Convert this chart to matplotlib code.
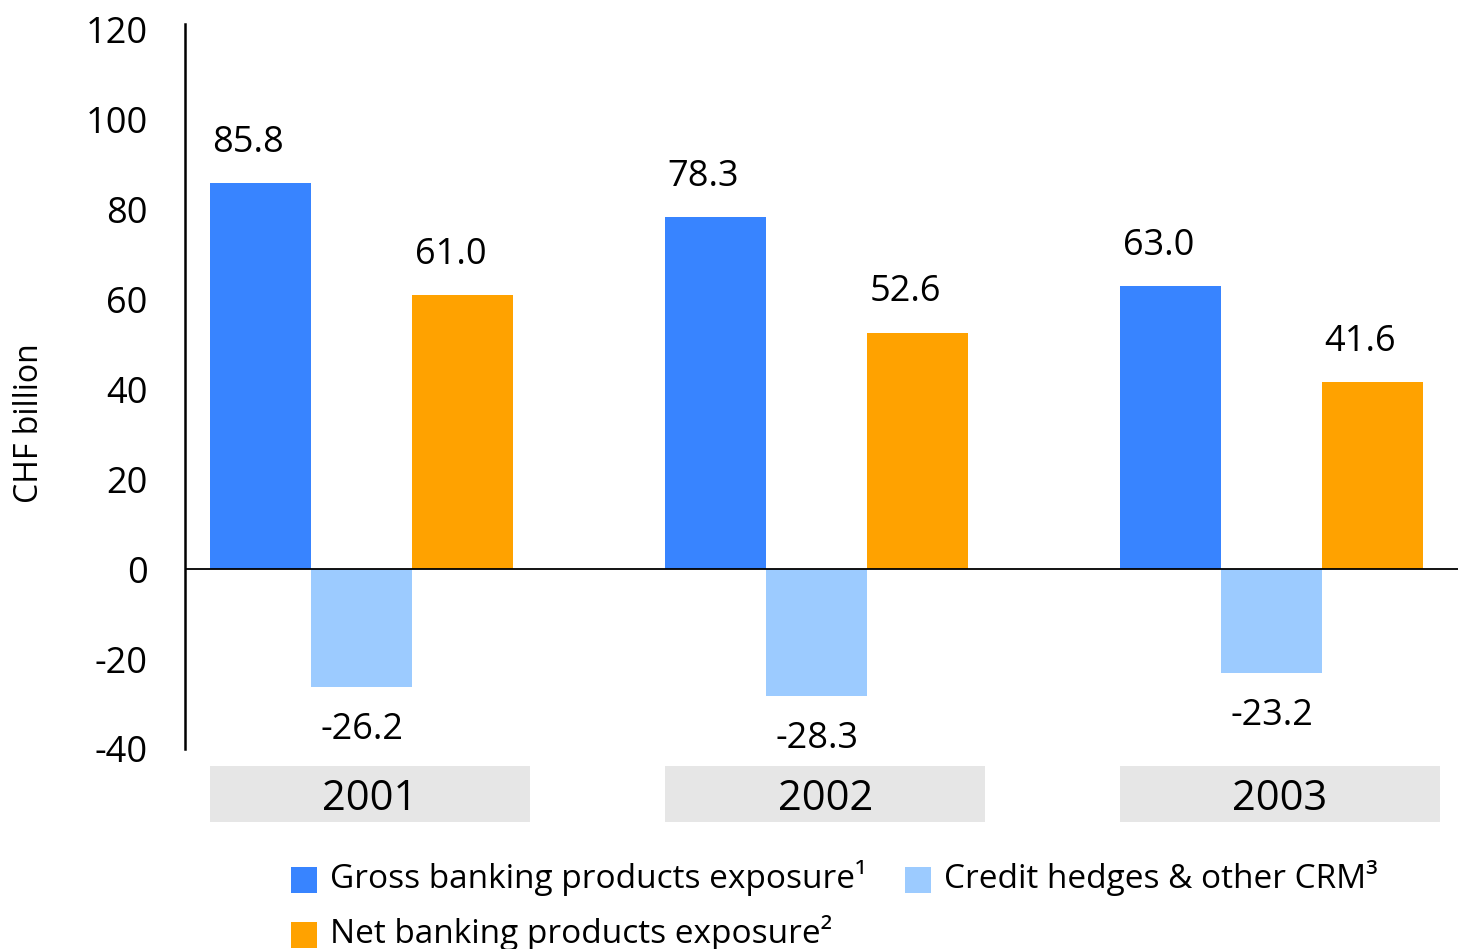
import matplotlib
matplotlib.use("Agg")
import matplotlib.pyplot as plt
import matplotlib.transforms as mtransforms
from matplotlib.patches import Rectangle
import numpy as np

plt.rcParams['font.family'] = ['Open Sans', 'DejaVu Sans']

years = ["2001", "2002", "2003"]
series_names = ["Gross banking products exposure\u00b9",
                "Credit hedges & other CRM\u00b3",
                "Net banking products exposure\u00b2"]
gross = [85.8, 78.3, 63.0]
hedges = [-26.2, -28.3, -23.2]
net = [61.0, 52.6, 41.6]
yticks = [-40, -20, 0, 20, 40, 60, 80, 100, 120]
colors = ["#3884ff", "#9ccbff", "#ffa200"]

W, H = 1458, 949
fig = plt.figure(figsize=(W / 100, H / 100), dpi=100)
ax = fig.add_axes([185 / W, 1 - 749 / H, 1 - 185 / W, (749 - 24) / H])

x = np.arange(len(years))
bw = 0.222
offsets = [-0.222, 0.0, 0.222]
for vals, off, c in zip([gross, hedges, net], offsets, colors):
    ax.bar(x + off, vals, width=bw, color=c, zorder=2)
    for xi, v in zip(x + off, vals):
        if v >= 0:
            ax.annotate(f"{v:.1f}", (xi, v), xytext=(-9, 16), textcoords="offset points",
                        ha="center", va="bottom", fontsize=26)
        else:
            ax.annotate(f"{v:.1f}", (xi, v), xytext=(0, -18), textcoords="offset points",
                        ha="center", va="top", fontsize=26)

ax.axhline(0, color="black", lw=1.3, zorder=3)
ax.set_xlim(-0.389, 2.409)
ax.set_ylim(-40, 121.2)
ax.set_yticks(yticks)
ax.set_yticklabels([str(t) for t in yticks], fontsize=26)
ax.tick_params(axis="y", length=0, pad=27)
ax.set_xticks([])
for s in ["top", "right", "bottom"]:
    ax.spines[s].set_visible(False)
ax.spines["left"].set_linewidth(1.8)

fig.text(30 / W, 1 - 423 / H, "CHF billion", rotation=90, ha="center", va="center", fontsize=23)

# category boxes
tr = mtransforms.blended_transform_factory(ax.transData, fig.transFigure)
for xi, yr in zip(x, years):
    ax.add_patch(Rectangle((xi - 0.333, 1 - 822 / H), 0.703, 56 / H, transform=tr,
                           facecolor="#e6e6e6", edgecolor="none", clip_on=False))
    ax.text(xi + 0.018, 1 - 799 / H, yr, transform=tr, ha="center", va="center", fontsize=30)

# legend
leg_pos = [(291, 867), (905, 867), (291, 922)]
for (lx, ly), name, c in zip(leg_pos, series_names, colors):
    fig.patches.append(Rectangle((lx / W, 1 - (ly + 26) / H), 26 / W, 26 / H,
                                 transform=fig.transFigure, facecolor=c, edgecolor="none"))
    fig.text((lx + 39) / W, 1 - (ly + 11) / H, name, ha="left", va="center", fontsize=24)

fig.savefig("out.png", dpi=100)
